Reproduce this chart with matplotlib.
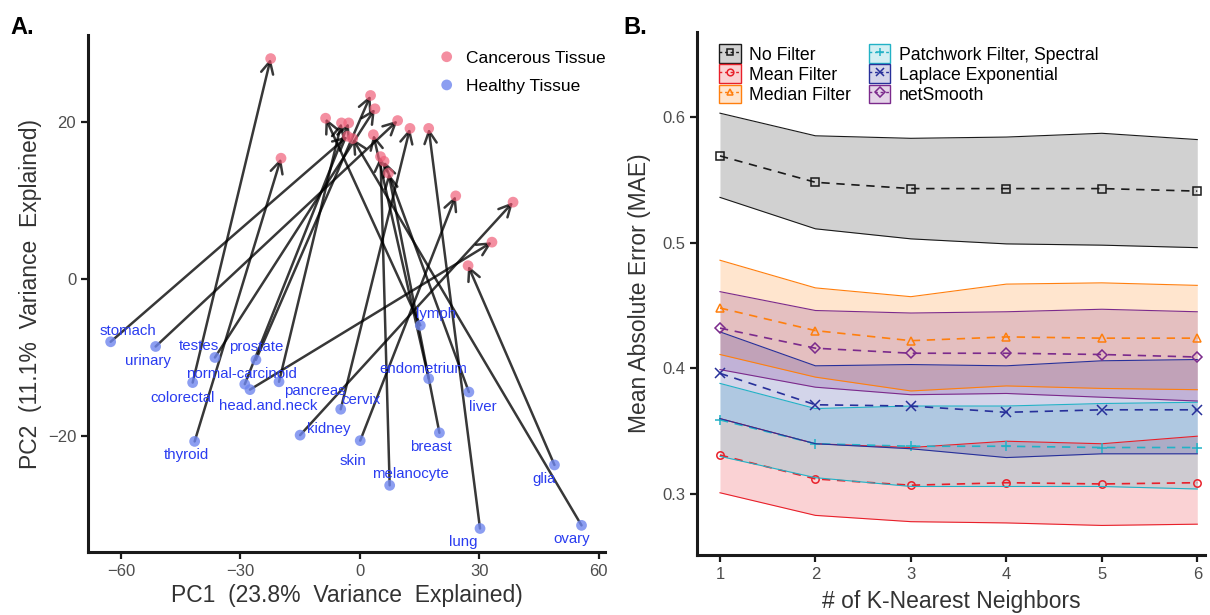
import matplotlib
matplotlib.use("Agg")
import matplotlib.pyplot as plt
from matplotlib.lines import Line2D
from matplotlib.patches import Patch
from matplotlib.colors import to_rgba

plt.rcParams["font.family"] = ["Liberation Sans", "DejaVu Sans"]

# ---------------- panel A: PCA, healthy -> cancerous ----------------
tissues = ["stomach", "urinary", "testes", "prostate", "colorectal",
           "normal-carcinoid", "head.and.neck", "thyroid", "pancreas", "cervix",
           "kidney", "skin", "melanocyte", "lymph", "endometrium",
           "liver", "breast", "glia", "lung", "ovary"]
healthy_pc1 = [-62.6, -51.3, -36.4, -26.1, -42.0, -28.9, -27.6, -41.5, -20.3, -4.8,
               -15.0, 0.1, 7.5, 15.2, 17.3, 27.4, 20.0, 48.9, 30.2, 55.7]
healthy_pc2 = [-8.0, -8.6, -10.0, -10.3, -13.2, -13.4, -14.1, -20.7, -13.1, -16.6,
               -19.9, -20.6, -26.3, -5.9, -12.7, -14.4, -19.6, -23.7, -31.8, -31.4]
cancer_pc1 = [-3.1, 9.5, 3.8, 2.7, -22.4, -2.8, 33.2, -19.8, -4.6, 12.6,
              38.5, 24.1, 5.2, -8.6, 3.4, 6.1, 7.2, 27.2, 17.3, -1.8]
cancer_pc2 = [18.2, 20.2, 21.7, 23.4, 28.1, 19.9, 4.7, 15.4, 19.9, 19.2,
              9.8, 10.6, 15.6, 20.5, 18.4, 15.0, 13.5, 1.7, 19.2, 17.9]

# label nudges in pixels (dx, dy) so names don't sit on the dots
label_nudge = {
    "stomach": (17, 11), "urinary": (-8, -15), "testes": (-16, 11),
    "prostate": (0, 13), "colorectal": (-10, -15), "normal-carcinoid": (-3, 10),
    "head.and.neck": (18, -16), "thyroid": (-8, -14), "pancreas": (36, -9),
    "cervix": (20, 9), "kidney": (29, 6), "skin": (-7, -20),
    "melanocyte": (21, 11), "lymph": (16, 11), "endometrium": (-5, 10),
    "liver": (14, -15), "breast": (-9, -14), "glia": (-10, -14),
    "lung": (-17, -14), "ovary": (-10, -14),
}

# ---------------- panel B: MAE vs k ----------------
k_values = [1, 2, 3, 4, 5, 6]

nofilter_mean = [0.569, 0.548, 0.543, 0.543, 0.543, 0.541]
nofilter_lo = [0.536, 0.511, 0.503, 0.499, 0.498, 0.496]
nofilter_hi = [0.603, 0.585, 0.583, 0.584, 0.587, 0.582]

mean_mean = [0.331, 0.312, 0.307, 0.309, 0.308, 0.309]
mean_lo = [0.301, 0.283, 0.278, 0.277, 0.275, 0.276]
mean_hi = [0.360, 0.340, 0.337, 0.342, 0.340, 0.346]

median_mean = [0.448, 0.430, 0.422, 0.425, 0.424, 0.424]
median_lo = [0.411, 0.393, 0.382, 0.386, 0.384, 0.383]
median_hi = [0.486, 0.464, 0.457, 0.467, 0.468, 0.466]

patch_mean = [0.359, 0.340, 0.338, 0.338, 0.337, 0.337]
patch_lo = [0.330, 0.313, 0.306, 0.306, 0.306, 0.304]
patch_hi = [0.388, 0.368, 0.370, 0.370, 0.372, 0.373]

laplace_mean = [0.396, 0.371, 0.370, 0.365, 0.367, 0.367]
laplace_lo = [0.360, 0.340, 0.336, 0.329, 0.332, 0.332]
laplace_hi = [0.429, 0.402, 0.403, 0.402, 0.406, 0.407]

netsmooth_mean = [0.432, 0.416, 0.412, 0.412, 0.411, 0.409]
netsmooth_lo = [0.399, 0.385, 0.379, 0.380, 0.377, 0.374]
netsmooth_hi = [0.461, 0.446, 0.444, 0.445, 0.447, 0.445]

methods = [
    ("No Filter", nofilter_mean, nofilter_lo, nofilter_hi, "#1a1a1a", "s"),
    ("Mean Filter", mean_mean, mean_lo, mean_hi, "#e8202a", "o"),
    ("Median Filter", median_mean, median_lo, median_hi, "#ff7f0e", "^"),
    ("Patchwork Filter, Spectral", patch_mean, patch_lo, patch_hi, "#22b2c6", "+"),
    ("Laplace Exponential", laplace_mean, laplace_lo, laplace_hi, "#27309a", "x"),
    ("netSmooth", netsmooth_mean, netsmooth_lo, netsmooth_hi, "#7b2a8c", "D"),
]

TICK_GREY = "#4d4d4d"

fig = plt.figure(figsize=(12.1, 6.15), dpi=100)


def style_axes(ax):
    for s in ["top", "right"]:
        ax.spines[s].set_visible(False)
    for s in ["left", "bottom"]:
        ax.spines[s].set_linewidth(2.2)
        ax.spines[s].set_color("#1a1a1a")
    ax.tick_params(axis="both", labelsize=12, labelcolor=TICK_GREY,
                   width=1.6, length=5, color="#1a1a1a")


# ---- A ----
axA = fig.add_axes([0.0727, 0.1024, 0.4273, 0.8406])
for hx, hy, cx, cy in zip(healthy_pc1, healthy_pc2, cancer_pc1, cancer_pc2):
    axA.annotate("", xy=(cx, cy), xytext=(hx, hy),
                 arrowprops=dict(arrowstyle="->", color="black", alpha=0.78,
                                 lw=1.8, shrinkA=0, shrinkB=0, mutation_scale=22))
axA.scatter(cancer_pc1, cancer_pc2, s=60, color="#f0607a", alpha=0.7,
            edgecolors="none", zorder=3, label="Cancerous Tissue")
axA.scatter(healthy_pc1, healthy_pc2, s=60, color="#6f86ee", alpha=0.8,
            edgecolors="none", zorder=3, label="Healthy Tissue")
for name, hx, hy in zip(tissues, healthy_pc1, healthy_pc2):
    dx, dy = label_nudge[name]
    axA.annotate(name, xy=(hx, hy), xytext=(dx, dy), textcoords="offset pixels",
                 ha="center", va="center", fontsize=10.8, color="#2a3cf0", zorder=4)

axA.set_xlim(-68.3, 61.6)
axA.set_ylim(-34.8, 31.1)
axA.set_xticks([-60, -30, 0, 30, 60])
axA.set_yticks([-20, 0, 20])
axA.set_xlabel("PC1  (23.8%  Variance  Explained)", fontsize=16.5, color="#333333",
               labelpad=4)
axA.set_ylabel("PC2  (11.1%  Variance  Explained)", fontsize=16.5, color="#333333",
               labelpad=4)
style_axes(axA)
axA.legend(loc="upper left", bbox_to_anchor=(0.63, 1.0), frameon=False,
           fontsize=12.5, handletextpad=0.1, labelspacing=0.75,
           markerscale=1.0, scatteryoffsets=[0.5])

# ---- B ----
axB = fig.add_axes([0.576, 0.0976, 0.4198, 0.8504])
handles = []
for label, m, lo, hi, col, mk in methods:
    axB.fill_between(k_values, lo, hi, color=col, alpha=0.2, lw=0)
    axB.plot(k_values, lo, color=col, lw=0.8)
    axB.plot(k_values, hi, color=col, lw=0.8)
    msize = 6.5 if mk in ("+", "x") else 5.3
    axB.plot(k_values, m, color=col, lw=1.2, ls=(0, (5, 4)), marker=mk,
             markersize=msize, markerfacecolor="none", markeredgecolor=col,
             markeredgewidth=1.1)
    key_box = Patch(facecolor=to_rgba(col, 0.2), edgecolor=col, lw=1.0)
    key_line = Line2D([], [], color=col, lw=1.0, ls=(0, (2, 2)), marker=mk,
                      markersize=msize - 0.5, markerfacecolor="none",
                      markeredgecolor=col, markeredgewidth=1.1)
    handles.append((key_box, key_line))

axB.set_xlim(0.759, 6.08)
axB.set_ylim(0.2515, 0.6676)
axB.set_xticks(k_values)
axB.set_yticks([0.3, 0.4, 0.5, 0.6])
axB.set_xlabel("# of K-Nearest Neighbors", fontsize=16.5, color="#333333", labelpad=6)
axB.set_ylabel("Mean Absolute Error (MAE)", fontsize=16.5, color="#333333", labelpad=8)
style_axes(axB)
axB.legend(handles, [m[0] for m in methods], ncol=2, loc="upper left",
           bbox_to_anchor=(0.02, 1.0), frameon=False, fontsize=12.7,
           handlelength=1.2, handleheight=1.25, handletextpad=0.5,
           labelspacing=0.05, columnspacing=1.0, borderaxespad=0.3)

fig.text(0.009, 0.955, "A.", fontsize=17, fontweight="bold", va="center")
fig.text(0.515, 0.955, "B.", fontsize=17, fontweight="bold", va="center")

fig.savefig("out.png", dpi=100)
